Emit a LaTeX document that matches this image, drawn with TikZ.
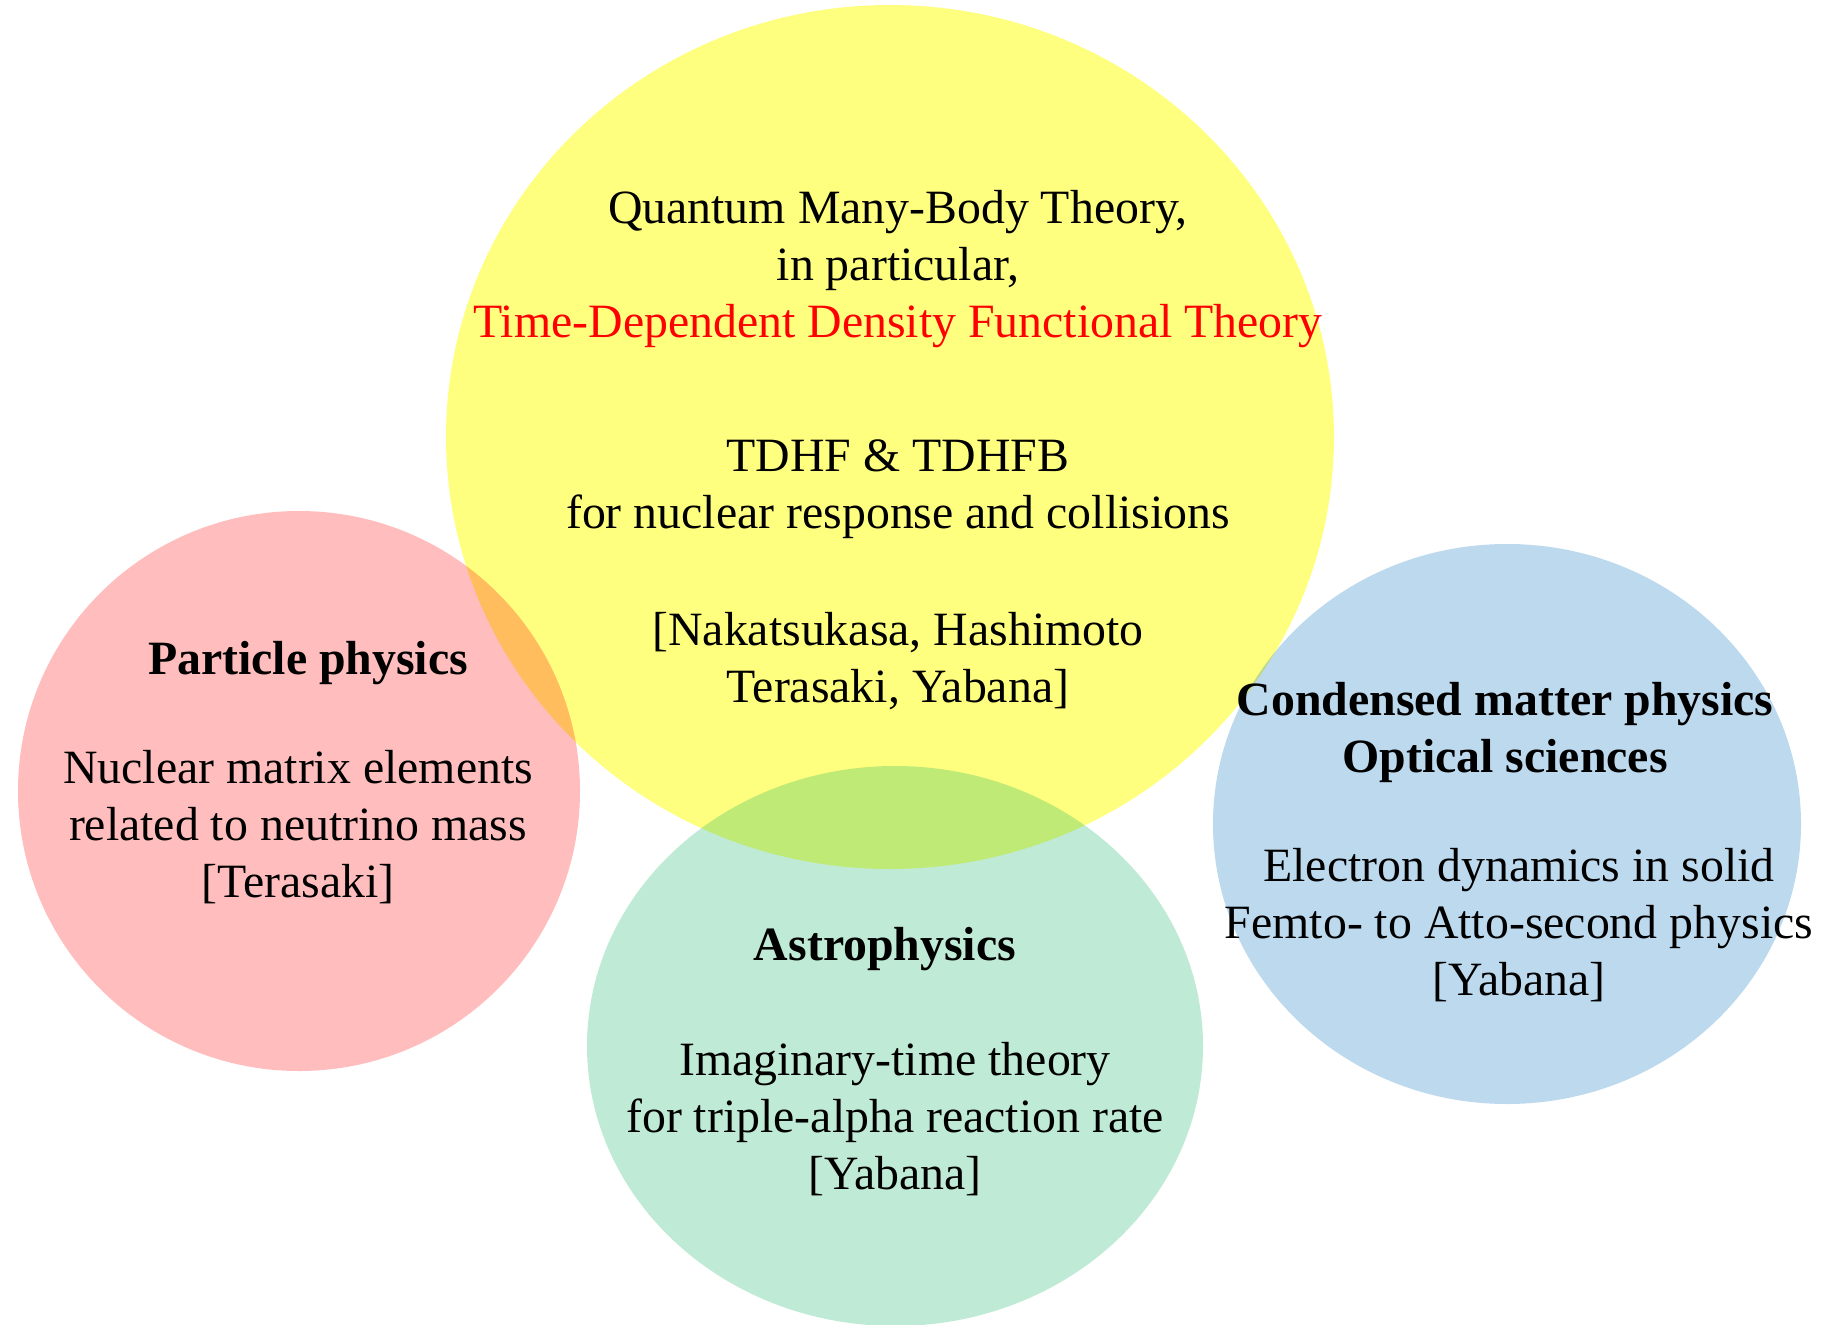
\documentclass[tikz,border=0pt]{standalone}
\usepackage{fontspec}
\setmainfont{Liberation Serif}
\usepackage{tikz}

\definecolor{fieldyellow}{RGB}{255,255,0}
\definecolor{fieldred}{RGB}{255,0,0}
\definecolor{fieldgreen}{RGB}{9,174,93}
\definecolor{fieldblue}{RGB}{0,109,190}
\definecolor{tddftred}{RGB}{255,0,0}

\begin{document}
\begin{tikzpicture}[
  x=1pt, y=1pt,
  field/.style={fill opacity=0.26},
  topic/.style={align=center, anchor=base, inner sep=0pt, font=\fontsize{47.8}{57}\selectfont},
  heading/.style={topic, font=\fontsize{47.8}{57}\selectfont\bfseries}
]
\useasboundingbox (0,0) rectangle (1829,-1325);

% research fields
\fill[fieldyellow, fill opacity=0.5] (890,-437)  ellipse [x radius=444, y radius=432];
\fill[field, fieldred]   (299,-791)  ellipse [x radius=281, y radius=280];
\fill[field, fieldgreen] (895,-1046) ellipse [x radius=308, y radius=280];
\fill[field, fieldblue]  (1507,-824) ellipse [x radius=294, y radius=280];

% centre: many-body theory (anchored at the last baseline)
\node[topic] (qmbt) at (898,-702) {Quantum Many-Body Theory,\\in particular,\\\textcolor{tddftred}{Time-Dependent Density Functional Theory}\\[77pt]TDHF \& TDHFB\\for nuclear response and collisions\\[60pt]{[Nakatsukasa, Hashimoto}\\Terasaki, Yabana]};

% particle physics
\node[heading] (particle)  at (308,-674)  {Particle physics};
\node[topic]   (nme)       at (298,-897)  {Nuclear matrix elements\\related to neutrino mass\\{[Terasaki]}};

% astrophysics
\node[heading] (astro)     at (885,-960)  {Astrophysics};
\node[topic]   (alpha)     at (895,-1189) {Imaginary-time theory\\for triple-alpha reaction rate\\{[Yabana]}};

% condensed matter / optics
\node[heading] (condensed) at (1505,-772) {Condensed matter physics\\Optical sciences};
\node[topic]   (electron)  at (1519,-995) {Electron dynamics in solid\\Femto- to Atto-second physics\\{[Yabana]}};

\end{tikzpicture}
\end{document}
